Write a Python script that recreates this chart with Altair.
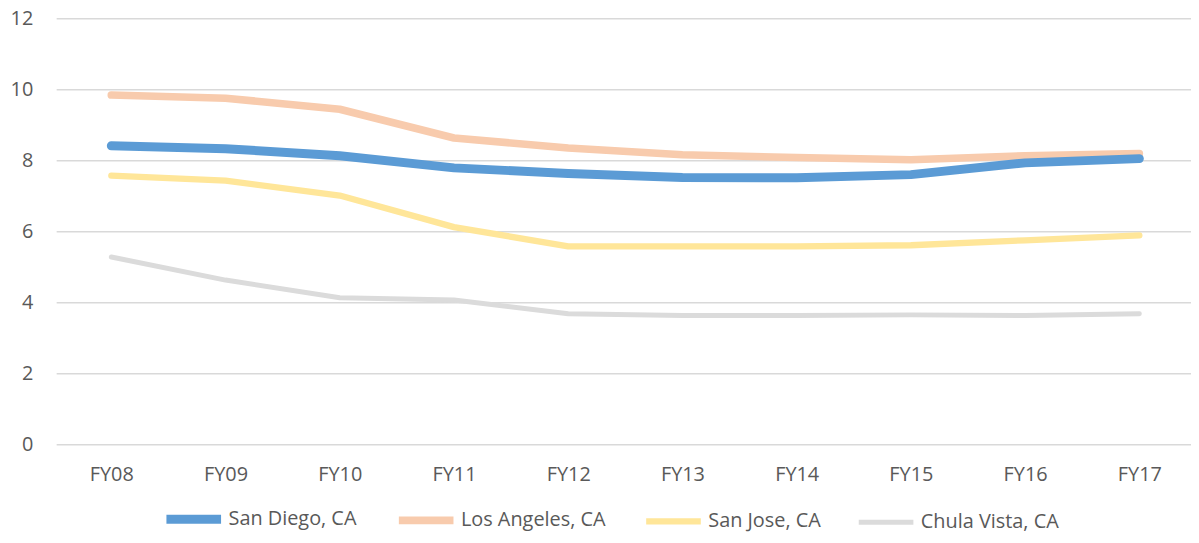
import altair as alt
import pandas as pd

years = ["FY08", "FY09", "FY10", "FY11", "FY12", "FY13", "FY14", "FY15", "FY16", "FY17"]
series = ["San Diego, CA", "Los Angeles, CA", "San Jose, CA", "Chula Vista, CA"]
san_diego = [8.42, 8.34, 8.14, 7.80, 7.64, 7.53, 7.52, 7.61, 7.94, 8.06]
los_angeles = [9.85, 9.76, 9.45, 8.64, 8.36, 8.17, 8.09, 8.03, 8.14, 8.20]
san_jose = [7.58, 7.44, 7.02, 6.13, 5.59, 5.59, 5.59, 5.62, 5.76, 5.90]
chula_vista = [5.29, 4.64, 4.14, 4.08, 3.69, 3.64, 3.64, 3.66, 3.64, 3.69]
y_ticks = [0, 2, 4, 6, 8, 10, 12]
colors = ["#5B9BD5", "#F8CBAD", "#FFE699", "#DBDBDB"]
widths = [9, 5, 5, 5]

rows = []
for name, vals in zip(series, [san_diego, los_angeles, san_jose, chula_vista]):
    for y, v in zip(years, vals):
        rows.append({"Year": y, "City": name, "Value": v})
df = pd.DataFrame(rows)
grid_df = pd.DataFrame({"tick": y_ticks})

FONT = "Open Sans"
W, H = 1142, 429

yscale = alt.Scale(domain=[0, 12], nice=False)
yaxis = alt.Axis(values=y_ticks, domain=False, ticks=False, grid=False,
                 labelPadding=24, labelFontSize=20, labelColor="#595959",
                 labelFont=FONT)

legend_kw = dict(title=None, orient="none", legendX=106, legendY=472,
                 direction="horizontal", columns=4,
                 symbolType="stroke", symbolSize=3025,
                 labelFontSize=20, labelColor="#595959",
                 labelFont=FONT, labelOffset=3,
                 columnPadding=27, labelLimit=300)

grid = alt.Chart(grid_df).mark_rule(color="#D9D9D9", strokeWidth=1.5).encode(
    y=alt.Y("tick:Q", scale=yscale, title=None, axis=yaxis),
    x=alt.value(0), x2=alt.value(W),
)

base = alt.Chart(df).mark_line(strokeCap="round", strokeJoin="round").encode(
    x=alt.X("Year:O", sort=years, title=None,
            scale=alt.Scale(type="point", range=[55, 1090], padding=0),
            axis=alt.Axis(labelAngle=0, domain=False, ticks=False, grid=False,
                          labelPadding=20, labelFontSize=20, labelColor="#595959",
                          labelFont=FONT)),
    y=alt.Y("Value:Q", title=None, scale=yscale, axis=yaxis),
    color=alt.Color("City:N", sort=series,
                    scale=alt.Scale(domain=series, range=colors),
                    legend=alt.Legend(**legend_kw)),
    strokeWidth=alt.StrokeWidth("City:N", sort=series,
                                scale=alt.Scale(domain=series, range=widths),
                                legend=alt.Legend(**legend_kw)),
)

layers = [base.transform_filter(alt.datum.City == s) for s in reversed(series)]

chart = alt.layer(grid, *layers).properties(
    width=W, height=H,
    padding={"left": 49, "top": 9, "right": 0, "bottom": 89},
    autosize=alt.AutoSizeParams(type="none"),
).configure_view(stroke=None)

chart.save("out.html", embed_options={"renderer": "svg", "actions": False})
